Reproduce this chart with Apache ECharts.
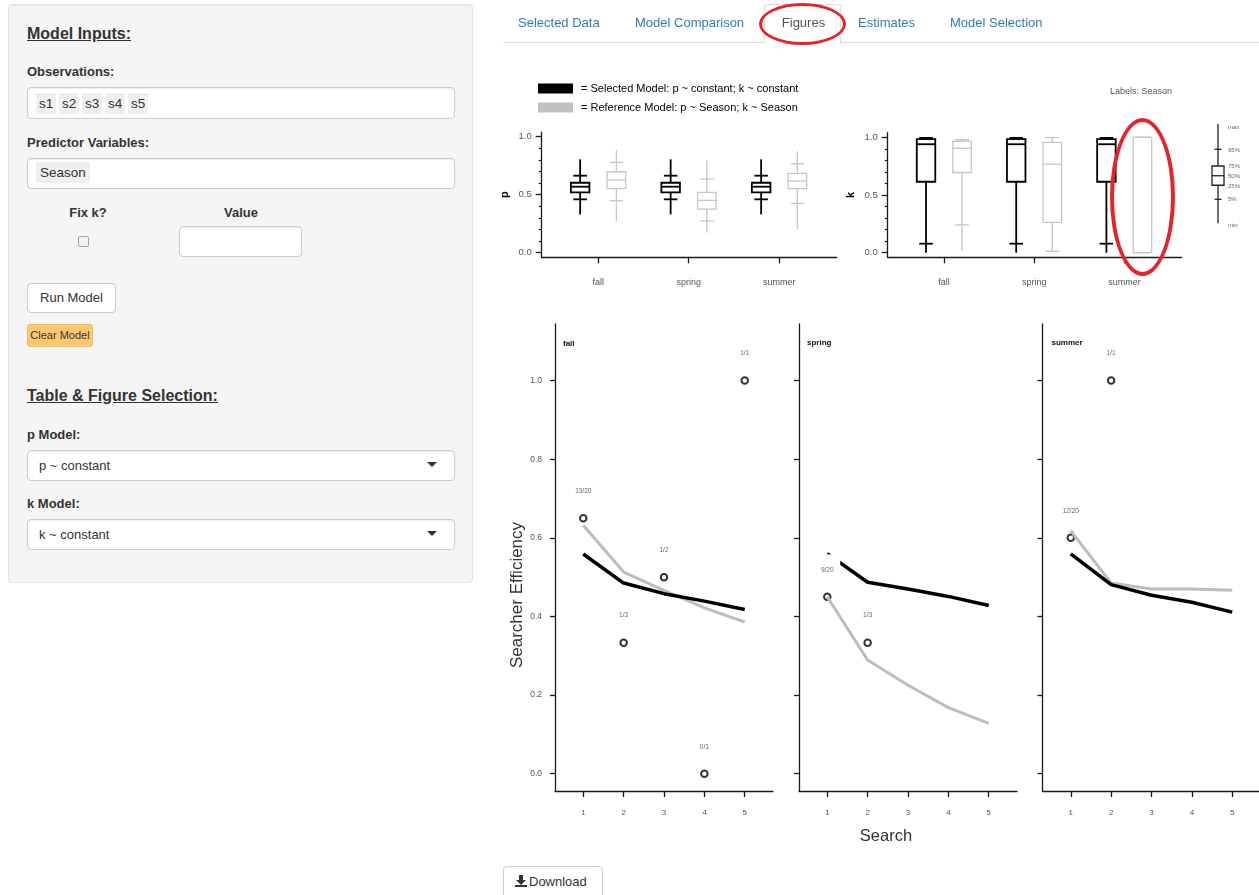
<!DOCTYPE html>
<html><head><meta charset="utf-8">
<script src="https://cdn.jsdelivr.net/npm/echarts@6/dist/echarts.min.js"></script>
<style>
html,body{margin:0;padding:0;background:#fff;width:1259px;height:895px;overflow:hidden;font-family:"Liberation Sans",Arial,Helvetica,sans-serif;color:#333;}
#chart{position:absolute;left:0;top:0;width:1259px;height:895px;z-index:1;}
.a{position:absolute;z-index:2;box-sizing:border-box;}
.well{left:8px;top:4px;width:465px;height:579px;background:#f5f5f5;border:1px solid #e3e3e3;border-radius:4px;box-shadow:inset 0 1px 1px rgba(0,0,0,.05);}
.h{font-size:16px;font-weight:bold;text-decoration:underline;color:#333;line-height:18px;white-space:nowrap;}
.lab{font-size:13px;font-weight:bold;color:#333;line-height:16px;white-space:nowrap;}
.inp{background:#fff;border:1px solid #ccc;border-radius:4px;box-shadow:inset 0 1px 1px rgba(0,0,0,.075);}
.tag{background:#efefef;font-size:13.5px;line-height:21px;height:21px;padding:0 3px;color:#333;border-radius:2px;white-space:nowrap;}
.btn{background:#fff;border:1px solid #ccc;border-radius:4px;font-size:13px;color:#333;text-align:center;white-space:nowrap;}
.txt{font-size:13px;color:#333;line-height:16px;white-space:nowrap;}
.tab{font-size:13px;color:#337ab7;line-height:16px;top:15px;white-space:nowrap;}
.caret{width:0;height:0;border-left:5px solid transparent;border-right:5px solid transparent;border-top:5px solid #333;}
.ell{border-style:solid;border-color:#e6232b;border-radius:50%;}
</style></head>
<body>
<div id="chart"></div>

<!-- left input panel -->
<div class="a well"></div>
<div class="a h" style="left:27px;top:25px;">Model Inputs:</div>
<div class="a lab" style="left:27px;top:64px;">Observations:</div>
<div class="a inp" style="left:27px;top:87px;width:428px;height:32px;"></div>
<div class="a tag" style="left:36px;top:93px;">s1</div>
<div class="a tag" style="left:59px;top:93px;">s2</div>
<div class="a tag" style="left:82px;top:93px;">s3</div>
<div class="a tag" style="left:105px;top:93px;">s4</div>
<div class="a tag" style="left:128px;top:93px;">s5</div>
<div class="a lab" style="left:27px;top:135px;">Predictor Variables:</div>
<div class="a inp" style="left:27px;top:158px;width:428px;height:31px;"></div>
<div class="a tag" style="left:36px;top:162px;padding:0 4px;">Season</div>
<div class="a lab" style="left:48px;top:205px;width:80px;text-align:center;">Fix k?</div>
<div class="a lab" style="left:201px;top:205px;width:80px;text-align:center;">Value</div>
<div class="a" style="left:78px;top:236px;width:11px;height:11px;border:1px solid #a5a5a5;border-radius:2px;background:#f2f2f2;"></div>
<div class="a inp" style="left:179px;top:226px;width:123px;height:31px;"></div>
<div class="a btn" style="left:27px;top:283px;width:89px;height:30px;line-height:28px;">Run Model</div>
<div class="a btn" style="left:27px;top:324px;width:66px;height:23px;line-height:21px;font-size:11px;background:#fdc870;border-color:#f6bc5c;border-radius:3px;">Clear Model</div>
<div class="a h" style="left:27px;top:387px;">Table &amp; Figure Selection:</div>
<div class="a lab" style="left:27px;top:427px;">p Model:</div>
<div class="a inp" style="left:27px;top:450px;width:428px;height:31px;"></div>
<div class="a txt" style="left:39px;top:458px;">p ~ constant</div>
<div class="a caret" style="left:427px;top:462px;"></div>
<div class="a lab" style="left:27px;top:496px;">k Model:</div>
<div class="a inp" style="left:27px;top:519px;width:428px;height:31px;"></div>
<div class="a txt" style="left:39px;top:527px;">k ~ constant</div>
<div class="a caret" style="left:427px;top:531px;"></div>

<!-- tabs -->
<div class="a" style="left:503px;top:42px;width:756px;height:1px;background:#ddd;"></div>
<div class="a" style="left:764px;top:4px;width:77px;height:39px;background:#fff;border:1px solid #ddd;border-bottom:none;border-radius:4px 4px 0 0;"></div>
<div class="a tab" style="left:518px;">Selected Data</div>
<div class="a tab" style="left:635px;">Model Comparison</div>
<div class="a tab" style="left:765px;width:77px;text-align:center;color:#555;">Figures</div>
<div class="a tab" style="left:858px;">Estimates</div>
<div class="a tab" style="left:950px;">Model Selection</div>
<div class="a ell" style="left:759px;top:3px;width:87px;height:42px;border-width:3px;"></div>
<div class="a ell" style="left:1110px;top:118px;width:65px;height:158px;border-width:4px;"></div>

<!-- download -->
<div class="a btn" style="left:503px;top:866px;width:100px;height:34px;line-height:30px;text-align:left;padding-left:11px;">
<svg width="12" height="12" viewBox="0 0 12 12" style="vertical-align:-1px;margin-right:2px"><path d="M4 0h4v5h3l-5 5-5-5h3z" fill="#333"/><rect x="0" y="10" width="12" height="2" fill="#333"/></svg>Download</div>

<script>
// ---------- data ----------
const seasons = ['fall', 'spring', 'summer'];
const selectedName = 'Selected Model: p ~ constant; k ~ constant';
const referenceName = 'Reference Model: p ~ Season; k ~ Season';
// boxplot rows: [min, 5%, 25%, 50%, 75%, 95%, max]
const pSelected = [
  [0.33, 0.46, 0.52, 0.569, 0.603, 0.664, 0.805],
  [0.33, 0.46, 0.52, 0.569, 0.603, 0.664, 0.805],
  [0.33, 0.46, 0.52, 0.569, 0.603, 0.664, 0.805]
];
const pReference = [
  [0.267, 0.448, 0.552, 0.626, 0.698, 0.779, 0.885],
  [0.172, 0.273, 0.376, 0.451, 0.520, 0.635, 0.793],
  [0.204, 0.425, 0.552, 0.618, 0.684, 0.767, 0.874]
];
const kSelected = [
  [0.0, 0.078, 0.615, 0.94, 0.985, 0.995, 1.0],
  [0.0, 0.078, 0.615, 0.94, 0.985, 0.995, 1.0],
  [0.0, 0.078, 0.615, 0.94, 0.985, 0.995, 1.0]
];
const kReference = [
  [0.02, 0.241, 0.695, 0.905, 0.966, 0.98, 0.99],
  [0.006, 0.012, 0.262, 0.767, 0.957, 0.998, 1.0],
  [0.0, 0.0, 0.0, 1.0, 1.0, 1.0, 1.0]
];
const legendLevels = [0.0, 0.242, 0.383, 0.479, 0.577, 0.745, 1.0];
const legendLevelNames = ['min', '5%', '25%', '50%', '75%', '95%', 'max'];

const searches = [1, 2, 3, 4, 5];
const fallSearch = [1, 2, 3, 4, 5];
const fallFound = [13, 1, 1, 0, 1];
const fallTrials = [20, 3, 2, 1, 1];
const springSearch = [1, 2];
const springFound = [9, 1];
const springTrials = [20, 3];
const summerSearch = [1, 2];
const summerFound = [12, 1];
const summerTrials = [20, 1];

const fallSelected = [0.559, 0.485, 0.458, 0.439, 0.4175];
const fallReference = [0.632, 0.513, 0.4665, 0.4217, 0.386];
const springSelected = [0.56, 0.487, 0.47, 0.451, 0.428];
const springReference = [0.45, 0.289, 0.225, 0.168, 0.128];
const summerSelected = [0.559, 0.481, 0.454, 0.436, 0.411];
const summerReference = [0.618, 0.485, 0.47, 0.47, 0.4665];

const boxTicksMajor = [0, 0.5, 1];
const boxTicksMinor = [0.1, 0.2, 0.3, 0.4, 0.6, 0.7, 0.8, 0.9];
const effTicks = [0, 0.2, 0.4, 0.6, 0.8, 1.0];

// ---------- helpers ----------
const AX = '#1a1a1a', LBL = '#555';
const FONT = '"Liberation Sans", Arial, sans-serif';

function boxRender(offset, color, lw) {
  return function (params, api) {
    const x = api.value(0) + offset;
    const v = [1, 2, 3, 4, 5, 6, 7].map(i => api.value(i));
    const cx = api.coord([x, 0])[0];
    const y = val => api.coord([x, val])[1];
    const bw = api.size([0.205, 0])[0];
    const cw = api.size([0.15, 0])[0];
    const st = { stroke: color, lineWidth: lw, fill: 'none' };
    return {
      type: 'group', children: [
        { type: 'line', shape: { x1: cx, y1: y(v[0]), x2: cx, y2: y(v[2]) }, style: st },
        { type: 'line', shape: { x1: cx, y1: y(v[4]), x2: cx, y2: y(v[6]) }, style: st },
        { type: 'line', shape: { x1: cx - cw / 2, y1: y(v[1]), x2: cx + cw / 2, y2: y(v[1]) }, style: st },
        { type: 'line', shape: { x1: cx - cw / 2, y1: y(v[5]), x2: cx + cw / 2, y2: y(v[5]) }, style: st },
        { type: 'rect', shape: { x: cx - bw / 2, y: y(v[4]), width: bw, height: y(v[2]) - y(v[4]) }, style: st },
        { type: 'line', shape: { x1: cx - bw / 2, y1: y(v[3]), x2: cx + bw / 2, y2: y(v[3]) }, style: st }
      ]
    };
  };
}
function legendRender(params, api) {
  const cx = api.coord([0, 0])[0];
  const y = val => api.coord([0, val])[1];
  const v = legendLevels;
  const bw = 12, cw = 7;
  const st = { stroke: '#222', lineWidth: 1.3, fill: 'none' };
  const kids = [
    { type: 'line', shape: { x1: cx, y1: y(v[0]), x2: cx, y2: y(v[2]) }, style: st },
    { type: 'line', shape: { x1: cx, y1: y(v[4]), x2: cx, y2: y(v[6]) }, style: st },
    { type: 'line', shape: { x1: cx - cw / 2, y1: y(v[1]), x2: cx + cw / 2, y2: y(v[1]) }, style: st },
    { type: 'line', shape: { x1: cx - cw / 2, y1: y(v[5]), x2: cx + cw / 2, y2: y(v[5]) }, style: st },
    { type: 'rect', shape: { x: cx - bw / 2, y: y(v[4]), width: bw, height: y(v[2]) - y(v[4]) }, style: st },
    { type: 'line', shape: { x1: cx - bw / 2, y1: y(v[3]), x2: cx + bw / 2, y2: y(v[3]) }, style: st }
  ];
  const nudge = [2.5, 0.5, 0.7, 0.8, 0, 0.7, 3];
  v.forEach((val, i) => {
    kids.push({ type: 'text', x: cx + 10, y: y(val) + nudge[i],
      style: { text: legendLevelNames[i], fill: '#666', fontSize: 6, fontFamily: FONT, verticalAlign: 'middle' } });
  });
  return { type: 'group', children: kids };
}
// boxed count labels drawn above each observed point (white box hides lines behind it)
function labelRender(names) {
  return function (params, api) {
    const pt = api.coord([api.value(0), api.value(1)]);
    const cx = pt[0], cy = pt[1] - 27;
    return { type: 'group', children: [
      { type: 'rect', shape: { x: cx - 13, y: cy - 15.5, width: 26, height: 31 }, style: { fill: '#fff', stroke: 'none' } },
      { type: 'text', x: cx, y: cy, style: { text: names[params.dataIndex], fill: '#666', fontSize: 6.5,
        fontFamily: FONT, align: 'center', verticalAlign: 'middle' } }
    ] };
  };
}
function boxData(rows) { return rows.map((r, i) => [i + 1].concat(r)); }
function pts(sx, found, trials) {
  return sx.map((s, i) => ({ value: [s, found[i] / trials[i]], name: found[i] + '/' + trials[i] }));
}
function pairs(sx, vals) { return sx.map((s, i) => [s, vals[i]]); }

// ---------- axes ----------
const grids = [
  { left: 541.7, top: 132.1, width: 295, height: 125.2 },
  { left: 887.7, top: 132.7, width: 294, height: 124.6 },
  { left: 555, top: 324, width: 218, height: 467 },
  { left: 799, top: 324, width: 218, height: 467 },
  { left: 1042.5, top: 324, width: 218, height: 467 },
  { left: 1205, top: 124, width: 26, height: 99.3 }
].map(g => Object.assign({ containLabel: false, outerBoundsMode: 'none' }, g));

const axLine = { show: true, onZero: false, lineStyle: { color: AX, width: 1.3 } };
function boxX(gi) {
  return { gridIndex: gi, type: 'value', min: 0.375, max: 3.635,
    axisLine: axLine, splitLine: { show: false },
    axisTick: { show: true, customValues: [1, 2, 3], length: 6, lineStyle: { color: AX, width: 1.3 } },
    axisLabel: { customValues: [1, 2, 3], formatter: v => seasons[Math.round(v) - 1], margin: 21, fontSize: 9, color: LBL, fontFamily: FONT } };
}
function boxYMajor(gi, name) {
  return { gridIndex: gi, type: 'value', position: 'left', min: -0.04, max: 1.04,
    axisLine: axLine, splitLine: { show: false },
    axisTick: { show: true, customValues: boxTicksMajor, length: 6, lineStyle: { color: AX, width: 1.3 } },
    axisLabel: { customValues: boxTicksMajor, formatter: v => v.toFixed(1), margin: 10, fontSize: 9.5, color: LBL, fontFamily: FONT },
    name: name, nameLocation: 'middle', nameGap: 31, nameRotate: 90,
    nameTextStyle: { fontSize: 11, fontWeight: 'bold', color: '#000', fontFamily: FONT } };
}
function boxYMinor(gi) {
  return { gridIndex: gi, type: 'value', position: 'left', min: -0.04, max: 1.04,
    axisLine: { show: false }, splitLine: { show: false },
    axisTick: { show: true, customValues: boxTicksMinor, length: 3, lineStyle: { color: AX, width: 1.2 } },
    axisLabel: { show: false } };
}
function effX(gi) {
  return { gridIndex: gi, type: 'value', min: 0.3, max: 5.7,
    axisLine: axLine, splitLine: { show: false },
    axisTick: { show: true, customValues: searches, length: 6, lineStyle: { color: AX, width: 1.3 } },
    axisLabel: { customValues: searches, formatter: v => String(v), margin: 18, fontSize: 8, color: LBL, fontFamily: FONT } };
}
function effY(gi, labels) {
  return { gridIndex: gi, type: 'value', position: 'left', min: -0.044, max: 1.144,
    axisLine: axLine, splitLine: { show: false },
    axisTick: { show: true, customValues: effTicks, length: 5, lineStyle: { color: AX, width: 1.3 } },
    axisLabel: { show: labels, customValues: effTicks, formatter: v => v.toFixed(1), margin: 13, fontSize: 8.5, color: LBL, fontFamily: FONT } };
}

const xAxes = [boxX(0), boxX(1), effX(2), effX(3), effX(4),
  { gridIndex: 5, type: 'value', min: -1, max: 1, show: false }];
const yAxes = [boxYMajor(0, 'p'), boxYMinor(0), boxYMajor(1, 'k'), boxYMinor(1),
  effY(2, true), effY(3, false), effY(4, false),
  { gridIndex: 5, type: 'value', min: 0, max: 1, show: false }];

// ---------- series ----------
const BLACK = '#000', GRAYLINE = '#bdbdbd', GRAYBOX = '#c6c6c6';
const series = [];
function addBox(name, rows, xi, yi, offset, color, lw) {
  series.push({ type: 'custom', name: name, xAxisIndex: xi, yAxisIndex: yi, data: boxData(rows),
    renderItem: boxRender(offset, color, lw), itemStyle: { color: name === selectedName ? BLACK : '#c0c0c0' },
    encode: { x: 0, y: [1, 2, 3, 4, 5, 6, 7] }, silent: true, z: 2 });
}
addBox(selectedName, pSelected, 0, 0, -0.2, BLACK, 1.8);
addBox(referenceName, pReference, 0, 0, 0.2, GRAYBOX, 1.3);
addBox(selectedName, kSelected, 1, 2, -0.2, BLACK, 1.8);
addBox(referenceName, kReference, 1, 2, 0.2, GRAYBOX, 1.3);

const panels = [
  { xi: 2, yi: 4, sx: fallSearch, f: fallFound, t: fallTrials, sel: fallSelected, ref: fallReference },
  { xi: 3, yi: 5, sx: springSearch, f: springFound, t: springTrials, sel: springSelected, ref: springReference },
  { xi: 4, yi: 6, sx: summerSearch, f: summerFound, t: summerTrials, sel: summerSelected, ref: summerReference }
];
panels.forEach(p => {
  const obs = pts(p.sx, p.f, p.t);
  series.push({ type: 'scatter', name: 'observed', xAxisIndex: p.xi, yAxisIndex: p.yi,
    data: obs, symbol: 'circle', symbolSize: 6.5,
    itemStyle: { color: 'rgba(0,0,0,0)', borderColor: '#000', borderWidth: 2 }, silent: true, z: 1 });
  series.push({ type: 'line', name: referenceName, xAxisIndex: p.xi, yAxisIndex: p.yi,
    data: pairs(searches, p.ref), showSymbol: false, symbol: 'none',
    lineStyle: { color: GRAYLINE, width: 3 }, itemStyle: { color: '#c0c0c0' }, silent: true, z: 2 });
  series.push({ type: 'line', name: selectedName, xAxisIndex: p.xi, yAxisIndex: p.yi,
    data: pairs(searches, p.sel), showSymbol: false, symbol: 'none',
    lineStyle: { color: BLACK, width: 3.5 }, itemStyle: { color: BLACK }, silent: true, z: 3 });
  series.push({ type: 'custom', name: 'labels', xAxisIndex: p.xi, yAxisIndex: p.yi,
    data: obs.map(o => o.value), renderItem: labelRender(obs.map(o => o.name)),
    encode: { x: 0, y: 1 }, silent: true, z: 5 });
});
series.push({ type: 'custom', name: 'legendBox', xAxisIndex: 5, yAxisIndex: 7, data: [[0]],
  renderItem: legendRender, silent: true });

// ---------- text ----------
function txt(x, y, text, size, opts) {
  return Object.assign({ type: 'text', x: x, y: y, silent: true,
    style: Object.assign({ text: text, fontSize: size, fill: '#333', fontFamily: FONT, verticalAlign: 'middle' }, (opts || {}).style) },
    (opts || {}).el);
}
const graphics = [
  txt(1110, 92, 'Labels: Season', 9, { style: { fill: '#555' } }),
  txt(563, 344, seasons[0], 8, { style: { fill: '#111', fontWeight: 'bold' } }),
  txt(807, 343, seasons[1], 8, { style: { fill: '#111', fontWeight: 'bold' } }),
  txt(1051.5, 343, seasons[2], 8, { style: { fill: '#111', fontWeight: 'bold' } }),
  txt(517, 595, 'Searcher Efficiency', 17, { style: { align: 'center' }, el: { rotation: Math.PI / 2 } }),
  txt(886, 836, 'Search', 16.5, { style: { align: 'center' } })
];

const chart = echarts.init(document.getElementById('chart'), null, { renderer: 'canvas' });
chart.setOption({
  animation: false,
  backgroundColor: 'transparent',
  textStyle: { fontFamily: FONT },
  legend: {
    left: 538, top: 83, orient: 'vertical', padding: 0, itemWidth: 35, itemHeight: 10, itemGap: 8,
    icon: 'rect', selectedMode: false, data: [selectedName, referenceName],
    formatter: n => '= ' + n,
    textStyle: { fontSize: 11, color: '#000', lineHeight: 10, padding: [0, 0, 0, 3], fontFamily: FONT }
  },
  grid: grids,
  xAxis: xAxes,
  yAxis: yAxes,
  series: series,
  graphic: graphics
});
</script>
</body></html>
